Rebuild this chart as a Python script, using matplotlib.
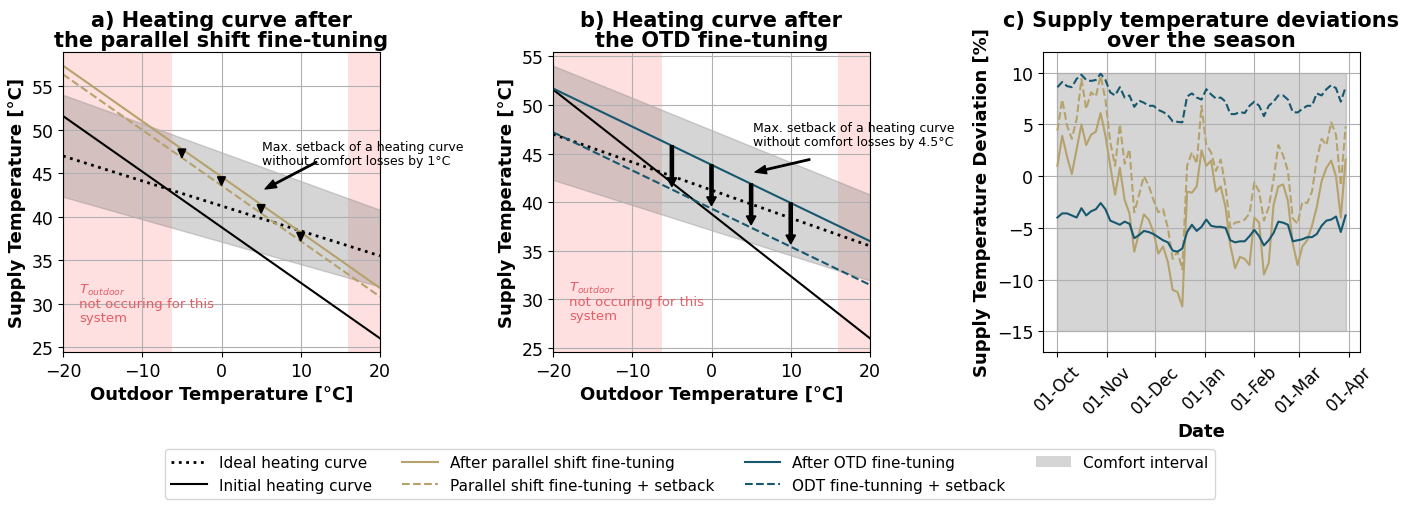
import numpy as np
import pandas as pd
import matplotlib
matplotlib.use("Agg")
import matplotlib.pyplot as plt
import matplotlib.dates as mdates
from matplotlib.patches import Patch
from matplotlib.lines import Line2D

# ---------------- data: heating curves (values at outdoor = -20 and +20 °C)
outdoor = [-20, 20]
ideal = [47.0, 35.5]
initial = [51.6, 26.0]
parallel = [57.4, 31.8]
parallel_setback = [56.4, 30.8]
otd = [51.7, 36.0]
otd_setback = [47.2, 31.5]
comfort_upper = [54.05, 40.8]
comfort_lower = [42.3, 31.95]
not_occurring_low = [-20, -6.2]
not_occurring_high = [16, 20]
arrow_x = [-5, 0, 5, 10]

# ---------------- data: deviations over the season (day offset from 01-Oct)
season_start = "2022-10-01"
days = list(range(0, 181, 3))
dev_parallel = [1.0, 3.9, 1.9, 0.2, 2.6, 5.0, 3.0, 4.0, 4.3, 6.1,
                3.9, 1.0, -1.8, 0.8, -2.3, -3.6, -7.3, -5.5, -3.7, -4.2,
                -5.4, -7.5, -6.8, -8.3, -11.0, -11.2, -12.6, -1.5, -1.6, -1.0,
                2.5, 1.0, 1.5, -1.5, -1.0, -3.0, -6.7, -8.9, -7.8, -8.0,
                -8.6, -4.0, -4.5, -9.5, -8.4, -2.8, -1.0, -0.8, -2.4, -6.5,
                -8.6, -6.8, -6.2, -4.8, -3.0, -0.5, 0.8, 1.5, 0.0, -4.0, 1.6]
dev_parallel_setback = [4.4, 7.4, 4.9, 3.6, 5.5, 9.4, 6.5, 8.1, 7.7, 9.7,
                        7.4, 3.3, 1.0, 5.0, 1.2, 2.6, -3.5, -1.8, 0.0, -0.9,
                        -2.3, -3.5, -3.2, -5.0, -8.0, -7.3, -9.0, 1.0, 2.3, 1.2,
                        6.8, 3.0, 2.3, 0.5, 1.6, -1.0, -5.0, -4.5, -4.4, -4.2,
                        -3.6, -0.6, -1.5, -4.3, -3.0, -0.3, 3.0, 2.0, 0.5, -4.1,
                        -4.6, -2.5, -2.6, -1.5, 1.6, 3.6, 3.0, 5.2, 4.0, -0.9, 4.8]
dev_otd = [-4.0, -3.6, -3.6, -3.8, -4.0, -3.1, -3.8, -3.4, -3.2, -2.6,
           -3.2, -4.3, -4.5, -4.7, -4.4, -4.6, -6.0, -5.7, -5.3, -5.4,
           -5.6, -5.9, -6.2, -6.4, -7.2, -7.3, -7.0, -5.4, -4.7, -5.3,
           -4.9, -4.2, -4.8, -4.9, -4.9, -5.0, -6.2, -6.4, -6.3, -6.3,
           -5.8, -5.2, -5.8, -6.7, -6.2, -5.5, -4.4, -4.5, -4.7, -6.3,
           -6.2, -6.1, -5.9, -5.9, -5.6, -4.8, -4.3, -4.2, -3.9, -5.4, -3.8]
dev_otd_setback = [8.6, 9.1, 8.7, 8.6, 9.4, 9.8, 9.3, 9.2, 9.3, 9.9,
                   9.3, 8.1, 7.8, 8.6, 7.6, 7.8, 6.7, 7.3, 7.1, 6.8,
                   6.8, 6.4, 6.2, 5.9, 5.3, 5.25, 5.2, 7.7, 8.0, 7.6,
                   7.4, 8.4, 7.9, 7.5, 7.6, 7.2, 6.0, 6.0, 6.2, 6.1,
                   6.8, 7.2, 6.8, 5.8, 6.8, 7.2, 7.8, 7.8, 7.4, 6.2,
                   6.15, 6.5, 6.8, 6.8, 8.0, 7.8, 8.4, 8.8, 8.5, 7.2, 8.6]
comfort_dev = [-15, 10]

# ---------------- style
OLIVE = "#b5a26c"
BLUE = "#17586f"
PINK_TXT = "#e35d66"
TICK_FS = 12.5
LABEL_FS = 13
TITLE_FS = 15

plt.rcParams["font.family"] = ["DejaVu Sans"]

fig = plt.figure(figsize=(14.15, 5.06), dpi=100)
W, H = 1415, 506
ax_a = fig.add_axes([63 / W, 153 / H, 317 / W, 300 / H])
ax_b = fig.add_axes([553 / W, 153 / H, 317 / W, 300 / H])
ax_c = fig.add_axes([1043 / W, 153 / H, 317 / W, 300 / H])


def common_curve_axes(ax, title):
    ax.axvspan(*not_occurring_low, color="red", alpha=0.12, lw=0)
    ax.axvspan(*not_occurring_high, color="red", alpha=0.12, lw=0)
    ax.fill_between(outdoor, comfort_lower, comfort_upper, color="grey", alpha=0.33)
    ax.plot(outdoor, ideal, color="black", ls=":", lw=2)
    ax.plot(outdoor, initial, color="black", ls="-", lw=1.5)
    ax.set_xlim(-20, 20)
    ax.grid(True)
    ax.set_title(title, fontsize=TITLE_FS, fontweight="bold", pad=4, linespacing=1.0)
    ax.set_xlabel("Outdoor Temperature [°C]", fontsize=LABEL_FS, fontweight="bold")
    ax.set_ylabel("Supply Temperature [°C]", fontsize=LABEL_FS, fontweight="bold")
    ax.tick_params(labelsize=TICK_FS)
    ax.text(-18, 27.7, "$T_{outdoor}$\nnot occuring for this\nsystem", color=PINK_TXT,
            fontsize=9.5, va="bottom", ha="left", linespacing=1.05)


# ---------------- panel a
common_curve_axes(ax_a, "a) Heating curve after\nthe parallel shift fine-tuning")
ax_a.plot(outdoor, parallel, color=OLIVE, lw=1.5)
ax_a.plot(outdoor, parallel_setback, color=OLIVE, lw=1.5, ls="--")
for x in arrow_x:
    y0 = np.interp(x, outdoor, parallel)
    y1 = np.interp(x, outdoor, parallel_setback)
    ax_a.arrow(x, y0, 0, y1 - y0, width=0.1, head_width=1.0, head_length=1.0,
               length_includes_head=True, color="black", zorder=5)
ax_a.text(5.1, 47.3, "Max. setback of a heating curve\nwithout comfort losses by 1°C",
          fontsize=9, va="center", ha="left", linespacing=1.1)
ax_a.annotate("", xy=(5.5, 43.2), xytext=(12.0, 46.3),
              arrowprops=dict(facecolor="black", edgecolor="black", width=1,
                              headwidth=6, headlength=8, shrink=0))

# ---------------- panel b
common_curve_axes(ax_b, "b) Heating curve after\nthe OTD fine-tuning")
ax_b.plot(outdoor, otd, color=BLUE, lw=1.5)
ax_b.plot(outdoor, otd_setback, color=BLUE, lw=1.5, ls="--")
for x in arrow_x:
    y0 = np.interp(x, outdoor, otd)
    y1 = np.interp(x, outdoor, otd_setback)
    ax_b.arrow(x, y0, 0, y1 - y0 + 0.3, width=0.4, head_width=1.2, head_length=0.9,
               length_includes_head=True, color="black", zorder=5)
ax_b.text(5.2, 47.0, "Max. setback of a heating curve\nwithout comfort losses by 4.5°C",
          fontsize=9, va="center", ha="left", linespacing=1.1)
ax_b.annotate("", xy=(5.5, 43.1), xytext=(12.4, 44.4),
              arrowprops=dict(facecolor="black", edgecolor="black", width=1,
                              headwidth=6, headlength=8, shrink=0))

# ---------------- panel c
dates = pd.Timestamp(season_start) + pd.to_timedelta(days, unit="D")
ax_c.fill_between(dates, comfort_dev[0], comfort_dev[1], color="grey", alpha=0.33)
ax_c.plot(dates, dev_parallel, color=OLIVE, lw=1.5)
ax_c.plot(dates, dev_parallel_setback, color=OLIVE, lw=1.5, ls="--")
ax_c.plot(dates, dev_otd, color=BLUE, lw=1.5)
ax_c.plot(dates, dev_otd_setback, color=BLUE, lw=1.5, ls="--")
ax_c.set_ylim(-17, 12)
ax_c.set_yticks([-15, -10, -5, 0, 5, 10])
ax_c.xaxis.set_major_locator(mdates.MonthLocator())
ax_c.xaxis.set_major_formatter(mdates.DateFormatter("%d-%b"))
ax_c.grid(True)
ax_c.tick_params(labelsize=TICK_FS)
ax_c.tick_params(axis="x", labelsize=12)
plt.setp(ax_c.get_xticklabels(), rotation=45, ha="center")
ax_c.set_title("c) Supply temperature deviations\nover the season", fontsize=TITLE_FS,
               fontweight="bold", pad=4, linespacing=1.0)
ax_c.set_xlabel("Date", fontsize=LABEL_FS, fontweight="bold")
ax_c.set_ylabel("Supply Temperature Deviation [%]", fontsize=LABEL_FS, fontweight="bold")

# ---------------- legend
handles = [
    Line2D([], [], color="black", ls=":", lw=2),
    Line2D([], [], color="black", ls="-", lw=1.5),
    Line2D([], [], color=OLIVE, ls="-", lw=1.5),
    Line2D([], [], color=OLIVE, ls="--", lw=1.5),
    Line2D([], [], color=BLUE, ls="-", lw=1.5),
    Line2D([], [], color=BLUE, ls="--", lw=1.5),
    Patch(facecolor="grey", alpha=0.33),
]
labels = ["Ideal heating curve", "Initial heating curve",
          "After parallel shift fine-tuning", "Parallel shift fine-tuning + setback",
          "After OTD fine-tuning", "ODT fine-tunning + setback", "Comfort interval"]
fig.legend(handles, labels, ncol=4, loc="center", bbox_to_anchor=(690 / W, 31 / H),
           fontsize=11, columnspacing=2.0, handlelength=2.3, handletextpad=0.8,
           frameon=True)

fig.savefig("out.png", dpi=100)
